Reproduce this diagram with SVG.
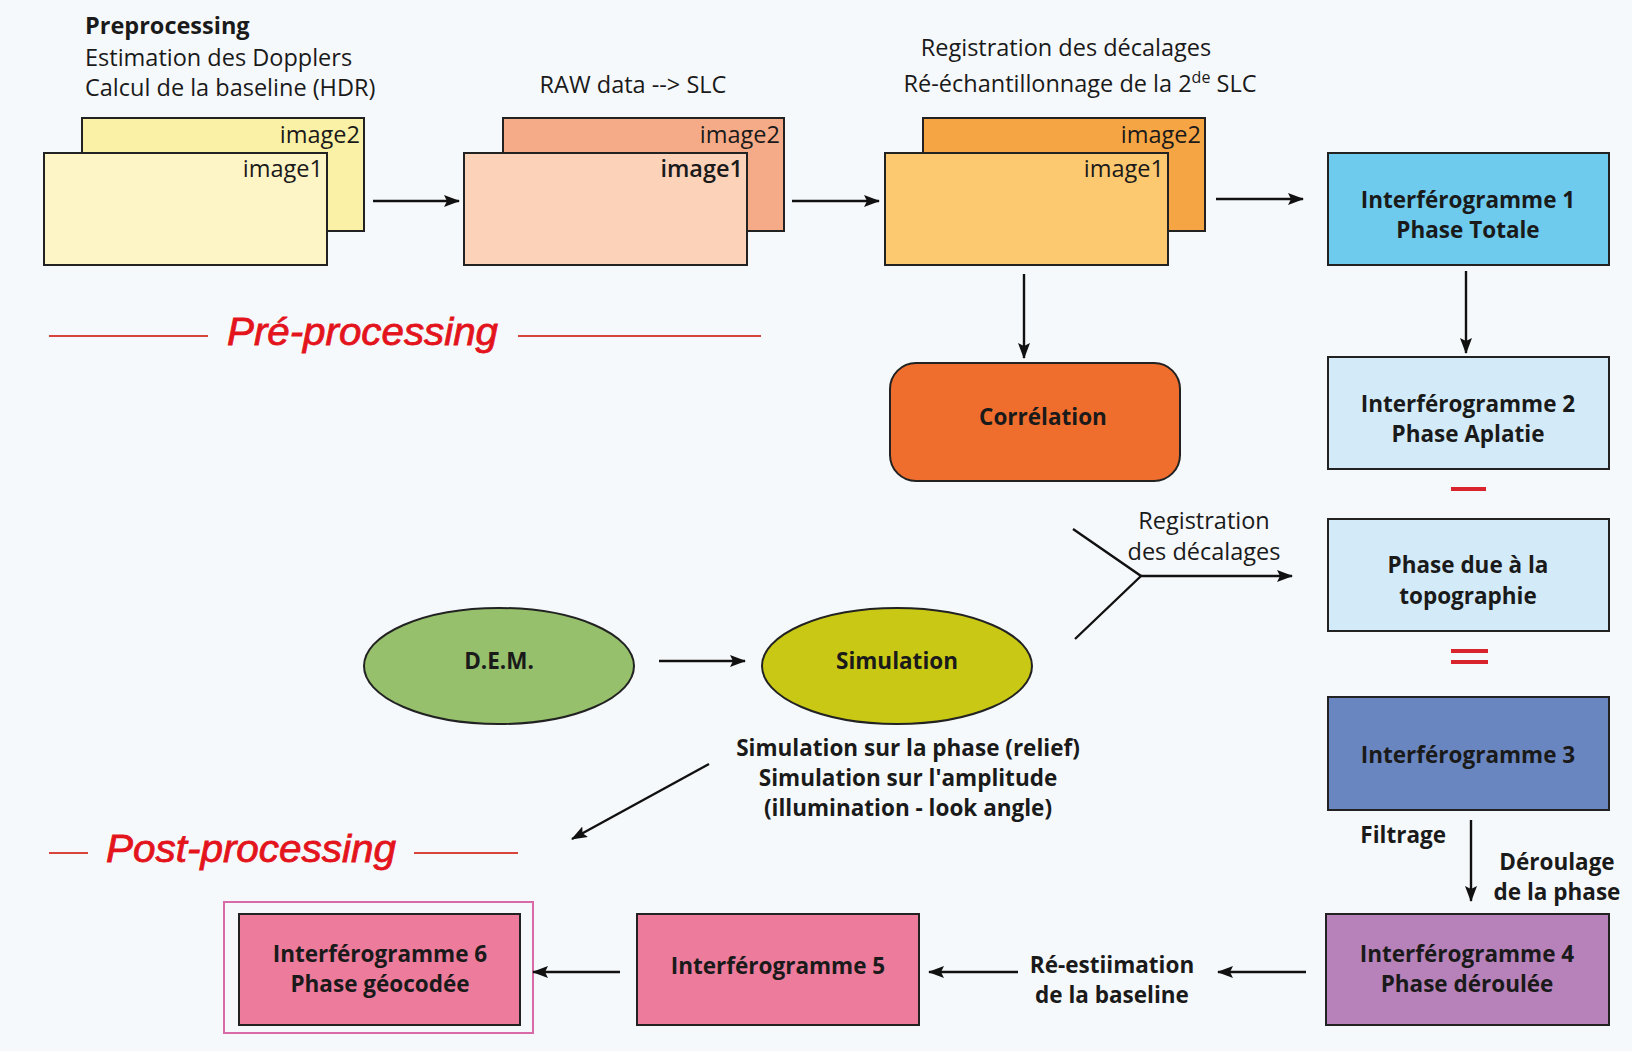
<svg xmlns="http://www.w3.org/2000/svg" width="1632" height="1051" viewBox="0 0 1632 1051">
<defs>
<marker id="ah" viewBox="0 0 16 12" refX="15" refY="6" markerWidth="16" markerHeight="12" markerUnits="userSpaceOnUse" orient="auto">
<path d="M0,0 L16,6 L0,12 L3,6 Z" fill="#111"/>
</marker>
<style>
text{font-family:"Open Sans","Noto Sans",sans-serif;fill:#1a1a1a}
.t{font-size:23.5px}
.b{font-size:22.5px;font-weight:bold;text-anchor:middle}
.img{font-size:23.5px;text-anchor:end}
.box{stroke:#222;stroke-width:2}
.edge{stroke:#111;stroke-width:2.4;fill:none}
.edgeA{stroke:#111;stroke-width:2.4;fill:none;marker-end:url(#ah)}
.red{stroke:#d8443a;stroke-width:2;fill:none}
.big{font-family:"Liberation Sans",Arial,sans-serif;font-style:italic;font-size:38px;fill:#e3141c;stroke:#e3141c;stroke-width:0.8}
</style>
</defs>
<rect width="1632" height="1051" fill="#f6f9fb"/>

<g id="preprocessing-text">
<text class="t" x="85" y="34" font-weight="bold" font-size="22.5">Preprocessing</text>
<text class="t" x="85" y="66">Estimation des Dopplers</text>
<text class="t" x="85" y="96">Calcul de la baseline (HDR)</text>
</g>

<g id="images-raw">
<rect class="box" x="82" y="118" width="282" height="113" fill="#fbf1a6"/>
<text class="img" x="360" y="143">image2</text>
<rect class="box" x="44" y="153" width="283" height="112" fill="#fdf5c6"/>
<text class="img" x="323" y="177">image1</text>
</g>

<g id="label-raw"><text class="t" x="633" y="93" text-anchor="middle">RAW data --&gt; SLC</text></g>

<g id="images-slc">
<rect class="box" x="503" y="118" width="281" height="113" fill="#f6ab88"/>
<text class="img" x="780" y="143">image2</text>
<rect class="box" x="464" y="153" width="283" height="112" fill="#fcd2b8"/>
<text class="img" x="743" y="177" font-weight="600">image1</text>
</g>

<g id="label-reg">
<text class="t" x="1066" y="56" text-anchor="middle">Registration des décalages</text>
<text class="t" x="1080" y="92" text-anchor="middle">Ré-échantillonnage de la 2<tspan font-size="16" dy="-9">de</tspan><tspan dy="9"> SLC</tspan></text>
</g>

<g id="images-reg">
<rect class="box" x="923" y="118" width="282" height="113" fill="#f6a544"/>
<text class="img" x="1201" y="143">image2</text>
<rect class="box" x="885" y="153" width="283" height="112" fill="#fcc870"/>
<text class="img" x="1164" y="177">image1</text>
</g>

<g id="int1">
<rect class="box" x="1328" y="153" width="281" height="112" fill="#6ecbee"/>
<text class="b" x="1468" y="208">Interférogramme 1</text>
<text class="b" x="1468" y="238">Phase Totale</text>
</g>

<g id="int2">
<rect class="box" x="1328" y="357" width="281" height="112" fill="#d3ebf8"/>
<text class="b" x="1468" y="412">Interférogramme 2</text>
<text class="b" x="1468" y="442">Phase Aplatie</text>
</g>

<g id="minus"><rect x="1451" y="487" width="35" height="4" fill="#d9232d"/></g>

<g id="phase-topo">
<rect class="box" x="1328" y="519" width="281" height="112" fill="#d3ebf8"/>
<text class="b" x="1468" y="573">Phase due à la</text>
<text class="b" x="1468" y="604">topographie</text>
</g>

<g id="equals">
<rect x="1451" y="649" width="37" height="4" fill="#d9232d"/>
<rect x="1451" y="660" width="37" height="4" fill="#d9232d"/>
</g>

<g id="int3">
<rect class="box" x="1328" y="697" width="281" height="113" fill="#6a86c1"/>
<text class="b" x="1468" y="763">Interférogramme 3</text>
</g>

<g id="int4">
<rect class="box" x="1326" y="914" width="283" height="111" fill="#b682b9"/>
<text class="b" x="1467" y="962">Interférogramme 4</text>
<text class="b" x="1467" y="992">Phase déroulée</text>
</g>

<g id="int5">
<rect class="box" x="637" y="914" width="282" height="111" fill="#ec7b9c"/>
<text class="b" x="778" y="974">Interférogramme 5</text>
</g>

<g id="int6">
<rect x="224" y="902" width="309" height="131" fill="none" stroke="#d86aa8" stroke-width="2"/>
<rect class="box" x="239" y="914" width="281" height="111" fill="#ec7b9c"/>
<text class="b" x="380" y="962">Interférogramme 6</text>
<text class="b" x="380" y="992">Phase géocodée</text>
</g>

<g id="correlation">
<rect class="box" x="890" y="363" width="290" height="118" rx="26" fill="#ef6d2d"/>
<text class="b" x="1043" y="425">Corrélation</text>
</g>

<g id="dem">
<ellipse class="box" cx="499" cy="666" rx="135" ry="58" fill="#96c06c"/>
<text class="b" x="499" y="669">D.E.M.</text>
</g>

<g id="simulation">
<ellipse class="box" cx="897" cy="666" rx="135" ry="58" fill="#c9c915"/>
<text class="b" x="897" y="669">Simulation</text>
</g>

<g id="sim-text">
<text class="b" x="908" y="756">Simulation sur la phase (relief)</text>
<text class="b" x="908" y="786">Simulation sur l'amplitude</text>
<text class="b" x="908" y="816">(illumination - look angle)</text>
</g>

<g id="section-labels">
<line class="red" x1="49" y1="336" x2="208" y2="336"/>
<text class="big" x="227" y="345" textLength="271" lengthAdjust="spacingAndGlyphs">Pré-processing</text>
<line class="red" x1="518" y1="336" x2="761" y2="336"/>
<line class="red" x1="49" y1="853" x2="88" y2="853"/>
<text class="big" x="106" y="862" textLength="290" lengthAdjust="spacingAndGlyphs">Post-processing</text>
<line class="red" x1="414" y1="853" x2="518" y2="853"/>
</g>

<g id="connectors">
<line class="edgeA" x1="373" y1="201" x2="459" y2="201"/>
<line class="edgeA" x1="792" y1="201" x2="879" y2="201"/>
<line class="edgeA" x1="1216" y1="199" x2="1303" y2="199"/>
<line class="edgeA" x1="1466" y1="271" x2="1466" y2="353"/>
<line class="edgeA" x1="1024" y1="274" x2="1024" y2="358"/>
<line class="edgeA" x1="659" y1="661" x2="745" y2="661"/>
<line class="edgeA" x1="709" y1="764" x2="572" y2="839"/>
<polyline class="edge" points="1073,529 1141,576 1075,639"/>
<line class="edgeA" x1="1141" y1="576" x2="1292" y2="576"/>
<line class="edgeA" x1="1471" y1="820" x2="1471" y2="901"/>
<line class="edgeA" x1="1306" y1="972" x2="1218" y2="972"/>
<line class="edgeA" x1="1018" y1="972" x2="929" y2="972"/>
<line class="edgeA" x1="620" y1="972" x2="533" y2="972"/>
</g>

<g id="edge-labels">
<text class="t" x="1204" y="529" text-anchor="middle">Registration</text>
<text class="t" x="1204" y="560" text-anchor="middle">des décalages</text>
<text class="b" x="1446" y="843" style="text-anchor:end">Filtrage</text>
<text class="b" x="1557" y="870">Déroulage</text>
<text class="b" x="1557" y="900">de la phase</text>
<text class="b" x="1112" y="973">Ré-estiimation</text>
<text class="b" x="1112" y="1003">de la baseline</text>
</g>
</svg>
